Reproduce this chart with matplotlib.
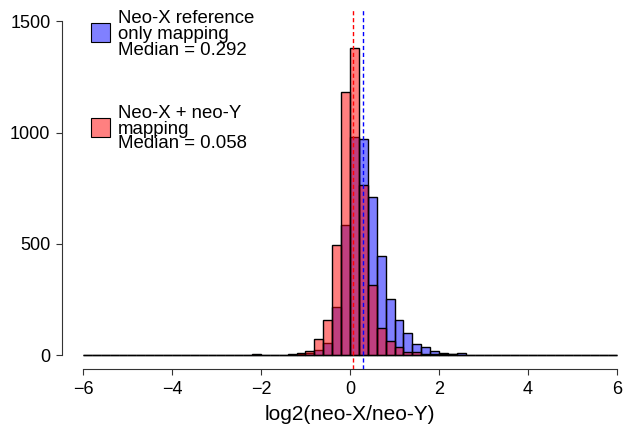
import numpy as np
import matplotlib
matplotlib.use("Agg")
from matplotlib import pyplot as plt
from matplotlib.patches import Rectangle

plt.rcParams['font.family'] = ['Liberation Sans', 'DejaVu Sans']

# histogram bins: -6 .. 6, width 0.2 (60 bins)
bin_edges = np.round(np.arange(-6, 6.0001, 0.2), 1)

# neo-X reference only mapping (counts per bin, left to right)
xonly_counts = [0, 0, 0, 0, 1, 0, 0, 0, 0, 0,
                0, 1, 1, 0, 1, 0, 1, 0, 2, 1,
                1, 1, 0, 3, 6, 12, 25, 57, 217, 583,
                982, 970, 709, 445, 253, 157, 102, 52, 37, 21,
                10, 6, 12, 3, 0, 3, 2, 0, 0, 2,
                0, 1, 1, 0, 0, 0, 0, 1, 0, 0]

# neo-X + neo-Y mapping
xy_counts = [0, 0, 0, 0, 1, 0, 0, 0, 0, 0,
             0, 1, 1, 1, 1, 0, 1, 0, 2, 4,
             1, 1, 0, 4, 12, 18, 73, 159, 494, 1182,
             1379, 765, 318, 123, 64, 37, 15, 15, 6, 6,
             7, 5, 2, 2, 0, 1, 1, 0, 0, 1,
             0, 0, 1, 0, 0, 0, 0, 0, 0, 0]

median_xonly = 0.292
median_xy = 0.058

legend_xonly = ['Neo-X reference', 'only mapping', 'Median = %.3f' % median_xonly]
legend_xy = ['Neo-X + neo-Y', 'mapping', 'Median = %.3f' % median_xy]

fig = plt.figure(figsize=(6.23, 4.28), dpi=100)
ax = fig.add_axes([61.6/623, 1 - 368.7/428, 576.8/623, 360.8/428])

left = bin_edges[:-1]
ax.bar(left, xonly_counts, width=0.2, align='edge', color=(0, 0, 1, 0.5),
       edgecolor='black', linewidth=1.0)
ax.bar(left, xy_counts, width=0.2, align='edge', color=(1, 0, 0, 0.5),
       edgecolor='black', linewidth=1.0)

ax.vlines(median_xy, -60, 1560, colors='red', linestyles=(0, (3, 2)), linewidth=1.0, zorder=3)
ax.vlines(median_xonly, -60, 1560, colors='blue', linestyles=(0, (3, 2)), linewidth=1.0, zorder=3)

ax.set_xlim(-6.48, 6.48)
ax.set_ylim(-60, 1560)
ax.spines['top'].set_visible(False)
ax.spines['right'].set_visible(False)
ax.spines['left'].set_bounds(0, 1500)
ax.spines['bottom'].set_bounds(-6, 6)
ax.spines['left'].set_color('#333333')
ax.spines['bottom'].set_color('#333333')
ax.set_xticks([-6, -4, -2, 0, 2, 4, 6])
ax.set_yticks([0, 500, 1000, 1500])
ax.tick_params(direction='out', length=4, width=0.8, labelsize=13, color='#333333', pad=4)
ax.tick_params(axis='x', pad=5)
ax.set_xlabel('log2(neo-X/neo-Y)', fontsize=15, labelpad=5)

# legend drawn by hand like R's legend box
fig.add_artist(Rectangle((91/623, 1 - 42/428), 19/623, 19/428, transform=fig.transFigure,
                         facecolor='#8080FF', edgecolor='black', linewidth=0.8))
fig.add_artist(Rectangle((91/623, 1 - 137/428), 19/623, 19/428, transform=fig.transFigure,
                         facecolor='#FF8080', edgecolor='black', linewidth=0.8))
for line, yb in zip(legend_xonly, [22.7, 39.0, 55.0]):
    fig.text(117.5/623, 1 - yb/428, line, fontsize=13.4, va='baseline', ha='left')
for line, yb in zip(legend_xy, [118.3, 133.5, 148.5]):
    fig.text(117.5/623, 1 - yb/428, line, fontsize=13.4, va='baseline', ha='left')

fig.savefig('out.png', dpi=100)
